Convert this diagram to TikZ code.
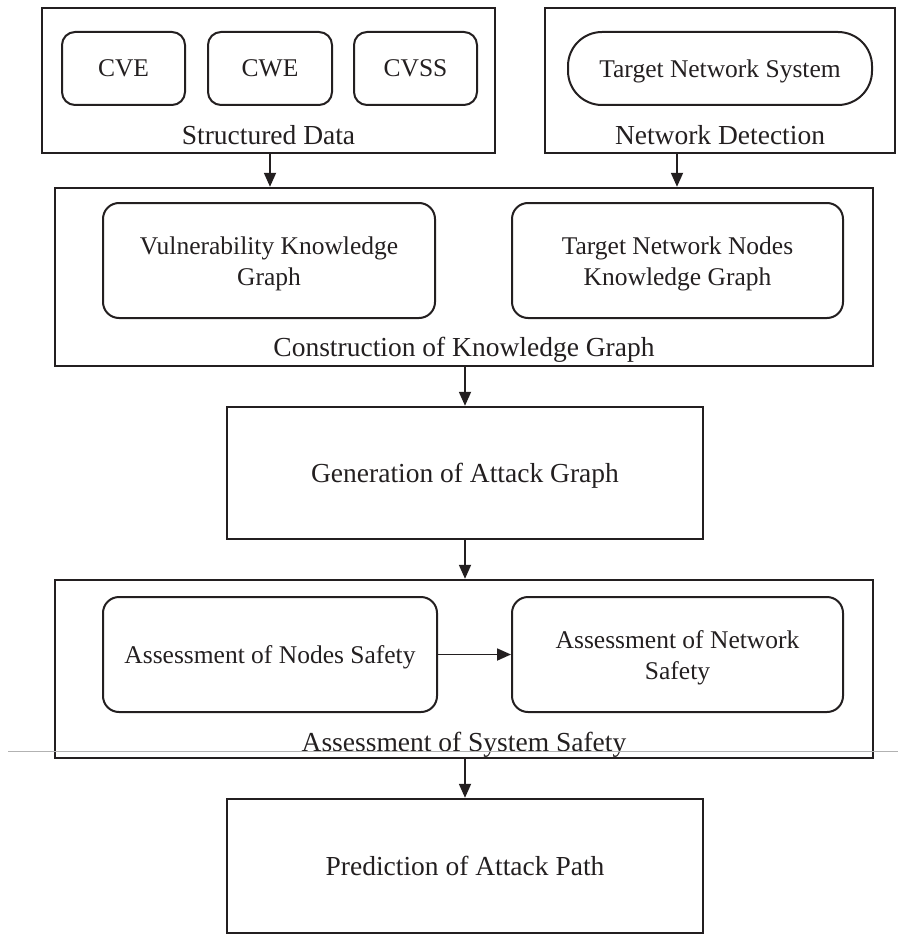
\documentclass[tikz,border=0pt]{standalone}
\usepackage{fontspec}
\setmainfont{Liberation Serif}
\usetikzlibrary{arrows.meta,calc}

\definecolor{ink}{HTML}{231F20}

\newcommand{\topstrut}{\rule{0pt}{24pt}}

\tikzset{
  outerbox/.style={draw=ink, line width=2.4pt, inner sep=0pt},
  roundbox/.style={draw=ink, line width=2pt, rounded corners=16pt, inner sep=0pt,
                   align=center, text=ink, font=\fontsize{25.5}{31}\selectfont},
  smallbox/.style={roundbox, rounded corners=13pt, text depth=0pt},
  pillbox/.style={roundbox, rounded corners=34pt, text depth=0pt},
  lbl/.style={inner sep=0pt, text=ink, text depth=0pt, font=\fontsize{27.5}{30}\selectfont},
  mainbox/.style={outerbox, font=\fontsize{27.5}{30}\selectfont, text=ink, text depth=0pt},
  arr/.style={draw=ink, line width=1.8pt, -{Triangle[length=14pt,width=12pt]}},
}

\begin{document}
\begin{tikzpicture}[x=1pt,y=-1pt]
  \useasboundingbox (0,0) rectangle (903,936);

  % Data sources
  \node[outerbox, minimum width=453pt, minimum height=145pt] (sd) at (268.5,80.5) {};
  \node[smallbox, minimum width=123pt, minimum height=73pt] (cve) at (123.5,68.5) {CVE};
  \node[smallbox, minimum width=124pt, minimum height=73pt] (cwe) at (270,68.5) {CWE};
  \node[smallbox, minimum width=123pt, minimum height=73pt] (cvss) at (415.5,68.5) {CVSS};
  \node[lbl] (sdl) at (268.5,135) {Structured Data};

  \node[outerbox, minimum width=350pt, minimum height=145pt] (nd) at (720,80.5) {};
  \node[pillbox, minimum width=304pt, minimum height=73pt] (tns) at (720,68.5) {Target Network System};
  \node[lbl] (ndl) at (720,135) {Network Detection};

  % Knowledge graph construction
  \node[outerbox, minimum width=818pt, minimum height=178pt] (kg) at (464,277) {};
  \node[roundbox, minimum width=332pt, minimum height=115pt] (vkg) at (269,260.5)
       {\topstrut Vulnerability Knowledge\\Graph};
  \node[roundbox, minimum width=331pt, minimum height=115pt] (tkg) at (677.5,260.5)
       {\topstrut Target Network Nodes\\Knowledge Graph};
  \node[lbl] (kgl) at (464,347) {Construction of Knowledge Graph};

  % Attack graph
  \node[mainbox, minimum width=476pt, minimum height=132pt] (gen) at (465,473)
       {Generation of Attack Graph};

  % Safety assessment
  \node[outerbox, minimum width=818pt, minimum height=178pt] (as) at (464,669) {};
  \node[roundbox, minimum width=334pt, minimum height=115pt, text depth=0pt] (nos) at (270,654.5)
       {Assessment of Nodes Safety};
  \node[roundbox, minimum width=331pt, minimum height=115pt] (nws) at (677.5,654.5)
       {\topstrut Assessment of Network\\Safety};
  \node[lbl] (asl) at (464,742) {Assessment of System Safety};

  % Prediction
  \node[mainbox, minimum width=476pt, minimum height=134pt] (pre) at (465,866)
       {Prediction of Attack Path};

  % Connectors
  \coordinate (sdx) at (270,0);
  \coordinate (ndx) at (677,0);
  \coordinate (midx) at (465,0);
  \draw[arr] (sd.south -| sdx) -- (kg.north -| sdx);
  \draw[arr] (nd.south -| ndx) -- (kg.north -| ndx);
  \draw[arr] (kg.south -| midx) -- (gen.north);
  \draw[arr] (gen.south) -- (as.north -| midx);
  \draw[arr] (nos.east) -- (nws.west);
  \draw[arr] (as.south -| midx) -- (pre.north);

  % thin grey rule across the sheet
  \draw[black!30, line width=1pt] (8,751) -- (898,751);
\end{tikzpicture}
\end{document}
